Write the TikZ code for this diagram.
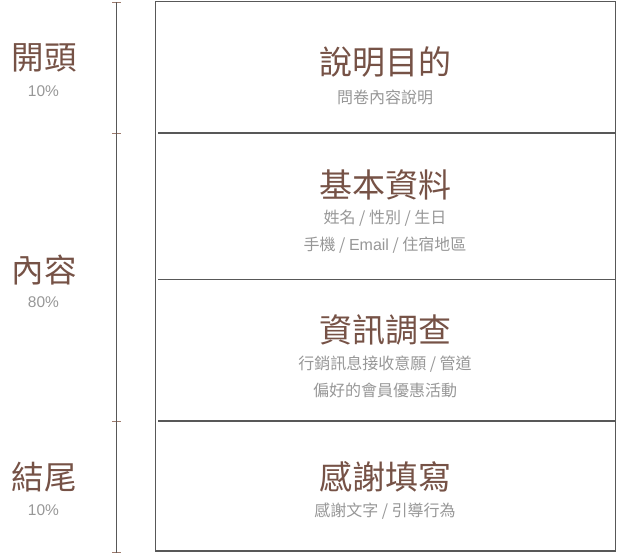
\documentclass[tikz,border=0pt]{standalone}
\usepackage{fontspec}
\setmainfont{Noto Sans CJK TC}
\newfontfamily\latinfont{Liberation Sans}
\definecolor{titlebrown}{HTML}{765246}
\definecolor{subgray}{HTML}{979797}
\definecolor{linegray}{HTML}{585858}
\definecolor{tickbrown}{HTML}{9C7A6C}
\begin{document}
\begin{tikzpicture}[x=1pt,y=-1pt,
  titletext/.style={text=titlebrown,font=\fontsize{33}{38}\selectfont,inner sep=0pt},
  lefttext/.style={text=titlebrown,font=\fontsize{32.5}{38}\selectfont,inner sep=0pt},
  subtext/.style={text=subgray,font=\fontsize{16}{19}\selectfont,inner sep=0pt},
  pcttext/.style={text=subgray,font=\latinfont\fontsize{15.5}{18}\selectfont,inner sep=0pt},
  frame/.style={draw=linegray,line width=1.2pt},
  ticks/.style={draw=tickbrown,line width=1pt}]
\useasboundingbox (0,0) rectangle (617,554);
% outer frame
\draw[frame] (155.5,1.5) rectangle (615.5,551);
\coordinate (d1l) at (158,133); \coordinate (d1r) at (615.5,133);
\coordinate (d2l) at (158,279.5); \coordinate (d2r) at (615.5,279.5);
\coordinate (d3l) at (158,421); \coordinate (d3r) at (615.5,421);
\draw[frame] (d1l) -- (d1r);
\draw[frame] (d2l) -- (d2r);
\draw[frame] (d3l) -- (d3r);
% timeline
\coordinate (t0) at (116.5,2);
\coordinate (t1) at (116.5,133);
\coordinate (t2) at (116.5,421);
\coordinate (t3) at (116.5,552.5);
\foreach \c in {t0,t1,t2,t3}{
  \draw[ticks] ([xshift=-4.5pt]\c) -- ([xshift=4.5pt]\c);
}
\draw[frame] (t0) -- (t3);
% left labels
\node[lefttext] (l1) at (44,58) {開頭};
\node[pcttext] (p1) at (43.5,91) {10\%};
\node[lefttext] (l2) at (44,270) {內容};
\node[pcttext] (p2) at (43.5,302) {80\%};
\node[lefttext] (l3) at (44,477) {結尾};
\node[pcttext] (p3) at (43.5,510) {10\%};
% sections
\node[titletext] (s1) at (385,62) {說明目的};
\node[subtext] (s1a) at (385,97) {問卷內容說明};
\node[titletext] (s2) at (385,185) {基本資料};
\node[subtext] (s2a) at (385,218) {姓名 / 性別 / 生日};
\node[subtext] (s2b) at (385,245) {手機 / {\latinfont Email} / 住宿地區};
\node[titletext] (s3) at (385,330) {資訊調查};
\node[subtext] (s3a) at (385,364) {行銷訊息接收意願 / 管道};
\node[subtext] (s3b) at (385,390) {偏好的會員優惠活動};
\node[titletext] (s4) at (385,477) {感謝填寫};
\node[subtext] (s4a) at (385,511) {感謝文字 / 引導行為};
\end{tikzpicture}
\end{document}
